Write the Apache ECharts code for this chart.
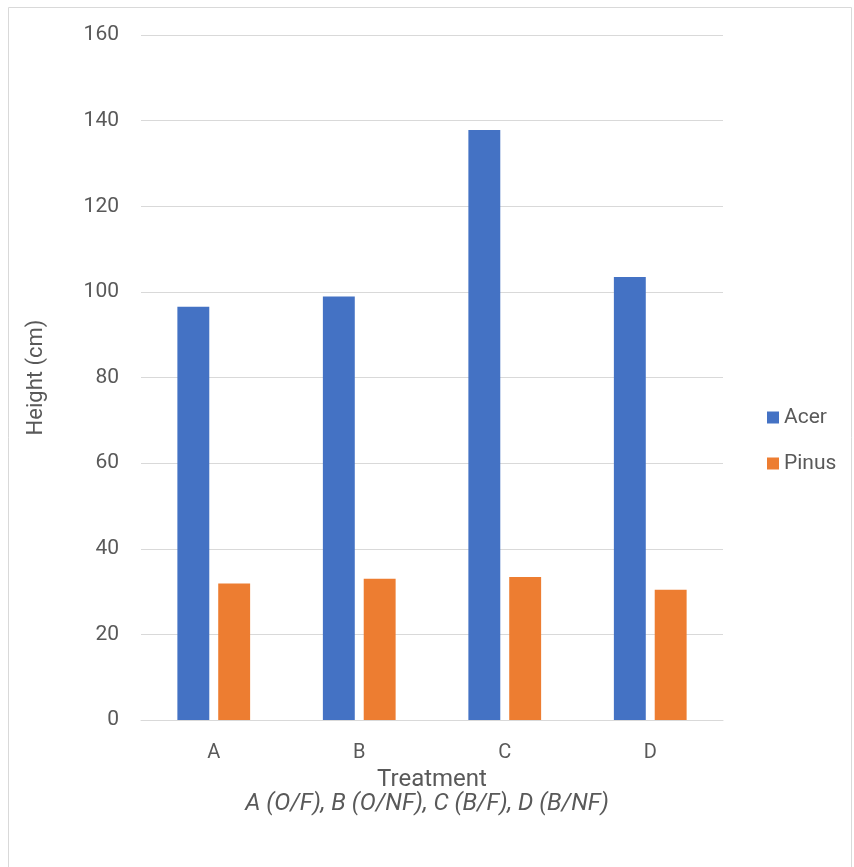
<!DOCTYPE html>
<html>
<head>
<meta charset="utf-8">
<script src="https://cdn.jsdelivr.net/npm/echarts@6/dist/echarts.min.js"></script>
<style>
  html, body { margin: 0; padding: 0; background: #fff; }
  #chart { width: 854px; height: 867px; }
</style>
</head>
<body>
<div id="chart"></div>
<script>
// Mean seedling height by treatment
const categories = ['A', 'B', 'C', 'D'];
const acer = [96.5, 98.9, 137.8, 103.5];
const pinus = [31.9, 33.0, 33.4, 30.4];
const yTicks = { min: 0, max: 160, step: 20 };

const FONT = 'Roboto, "Liberation Sans", sans-serif';
const TEXT = '#595959';

const chart = echarts.init(document.getElementById('chart'), null, { renderer: 'canvas' });
chart.setOption({
  animation: false,
  textStyle: { fontFamily: FONT, color: TEXT },
  title: {
    text: 'A (O/F), B (O/NF), C (B/F), D (B/NF)',
    left: 'center',
    top: 792,
    padding: 0,
    textStyle: { fontFamily: FONT, fontSize: 24, fontWeight: 'normal', fontStyle: 'italic', color: TEXT }
  },
  graphic: [{
    type: 'rect',
    shape: { x: 8.5, y: 7.5, width: 843, height: 870 },
    style: { fill: 'none', stroke: '#d9d9d9', lineWidth: 1 },
    silent: true
  }],
  legend: {
    orient: 'vertical',
    left: 762,
    top: 402,
    itemWidth: 12,
    itemHeight: 12,
    itemGap: 25,
    icon: 'rect',
    textStyle: { fontFamily: FONT, fontSize: 21, color: TEXT, padding: [0, 0, 0, 0] },
    data: ['Acer', 'Pinus']
  },
  grid: { left: 141, right: 131, top: 35, bottom: 147, containLabel: false },
  xAxis: {
    type: 'category',
    data: categories,
    name: 'Treatment',
    nameLocation: 'middle',
    nameGap: 36,
    nameTextStyle: { fontFamily: FONT, fontSize: 24, color: TEXT },
    axisLine: { show: true, lineStyle: { color: '#d9d9d9', width: 1 } },
    axisTick: { show: false },
    axisLabel: { fontFamily: FONT, fontSize: 20, color: TEXT, margin: 23 }
  },
  yAxis: {
    type: 'value',
    min: yTicks.min,
    max: yTicks.max,
    interval: yTicks.step,
    name: 'Height (cm)',
    nameLocation: 'middle',
    nameGap: 94,
    nameRotate: 90,
    nameTextStyle: { fontFamily: FONT, fontSize: 22, color: TEXT },
    axisLine: { show: false },
    axisTick: { show: false },
    axisLabel: { fontFamily: FONT, fontSize: 21, color: TEXT, margin: 22 },
    splitLine: { lineStyle: { color: '#d9d9d9', width: 1 } }
  },
  series: [
    {
      name: 'Acer',
      type: 'bar',
      data: acer,
      itemStyle: { color: '#4472C4' },
      barGap: '28%',
      barCategoryGap: '50%'
    },
    {
      name: 'Pinus',
      type: 'bar',
      data: pinus,
      itemStyle: { color: '#ED7D31' },
      barGap: '28%',
      barCategoryGap: '50%'
    }
  ]
});
</script>
</body>
</html>
